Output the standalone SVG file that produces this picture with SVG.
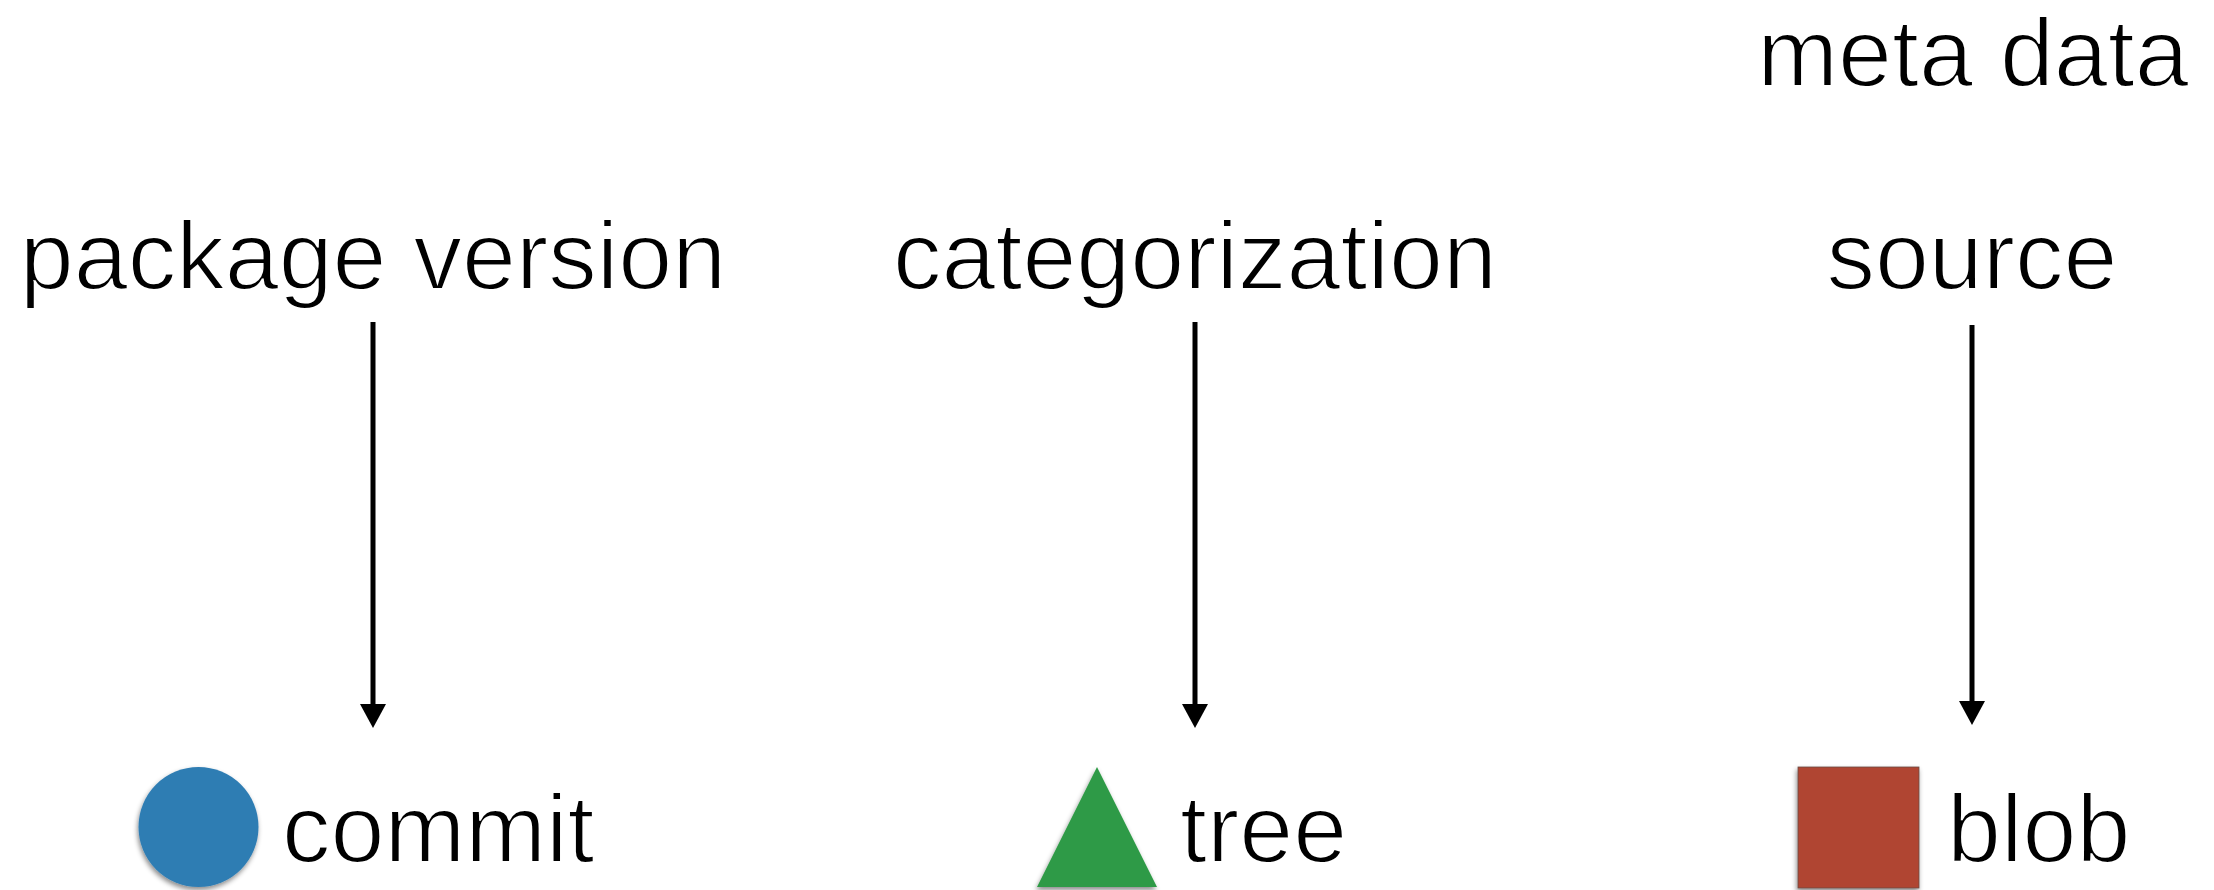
<svg xmlns="http://www.w3.org/2000/svg" width="2214" height="890" viewBox="0 0 2214 890">
  <style>
    .lbl { font-family: "Liberation Sans", Arial, sans-serif; font-size: 97px; fill: #000; stroke: #fff; stroke-width: 2px; }
    .mid { text-anchor: middle; }
    .conn { stroke: #000; stroke-width: 5; fill: none; marker-end: url(#head); }
  </style>
  <defs>
    <marker id="head" viewBox="0 0 24 26" refX="0" refY="13" markerWidth="24" markerHeight="26" markerUnits="userSpaceOnUse" orient="auto">
      <path d="M0,0 L24,13 L0,26 Z" fill="#000"/>
    </marker>
    <filter id="shadow" x="-20%" y="-20%" width="140%" height="150%">
      <feDropShadow dx="-1" dy="3" stdDeviation="2.5" flood-color="#000" flood-opacity="0.45"/>
    </filter>
  </defs>

  <rect width="2214" height="890" fill="#fff"/>

  <!-- top label -->
  <g id="meta-data">
    <text class="lbl mid" x="1973" y="86">meta data</text>
  </g>

  <!-- concept labels -->
  <g id="package-version">
    <text class="lbl mid" x="373" y="289">package version</text>
  </g>
  <g id="categorization">
    <text class="lbl mid" x="1195" y="289">categorization</text>
  </g>
  <g id="source">
    <text class="lbl mid" x="1972" y="289">source</text>
  </g>

  <!-- connectors -->
  <g id="connectors">
    <line class="conn" x1="373" y1="322" x2="373" y2="704"/>
    <line class="conn" x1="1195" y1="322" x2="1195" y2="704"/>
    <line class="conn" x1="1972" y1="325" x2="1972" y2="701"/>
  </g>

  <!-- git object types -->
  <g id="commit">
    <circle cx="198.5" cy="827" r="60" fill="#2f7db3" filter="url(#shadow)"/>
    <text class="lbl" x="282" y="862">commit</text>
  </g>
  <g id="tree">
    <polygon points="1097,767 1037,887 1157,887" fill="#2e9a46" filter="url(#shadow)"/>
    <text class="lbl" x="1180" y="862">tree</text>
  </g>
  <g id="blob">
    <rect x="1798" y="767" width="121" height="121" fill="#b04532" stroke="#6a4a44" stroke-width="0.8" filter="url(#shadow)"/>
    <text class="lbl" x="1947" y="862">blob</text>
  </g>
</svg>
